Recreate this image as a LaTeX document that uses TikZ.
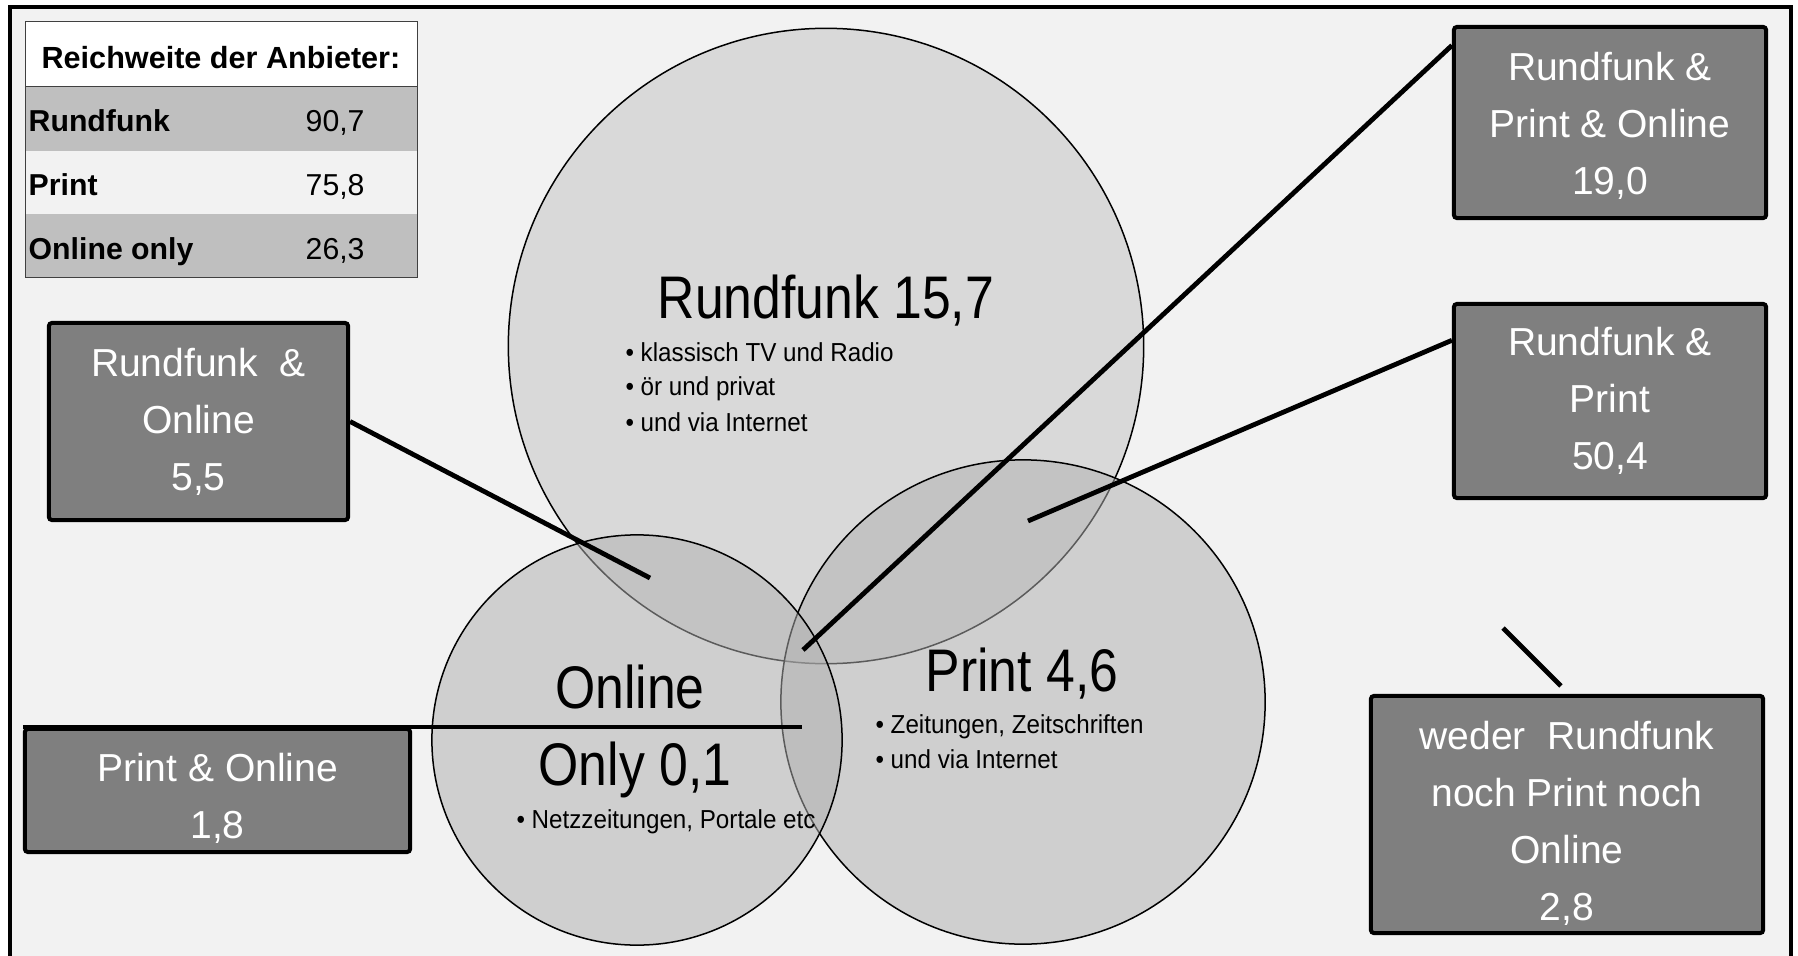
\documentclass[tikz,border=0pt]{standalone}
\usepackage{fontspec}
\setmainfont{Liberation Sans}
\newfontfamily\circfont{Liberation Sans}[FakeStretch=0.86]
\newfontfamily\bulfont{Liberation Sans}[FakeStretch=0.93]
\usetikzlibrary{calc}
\definecolor{FrameBg}{RGB}{242,242,242}
\definecolor{BoxGray}{RGB}{127,127,127}
\definecolor{RowGray}{RGB}{191,191,191}
\definecolor{VennLight}{RGB}{217,217,217}
\definecolor{VennMid}{RGB}{176,176,176}
\definecolor{TabRule}{RGB}{64,64,64}
\newcommand{\vennbullet}{\makebox[1.5mm][l]{\textbullet}}
\newcommand{\boxlift}[1]{\rule{0pt}{#1}}
\tikzset{
  venn/.style={circle,draw=black,line width=0.15mm,inner sep=0pt},
  vennlab/.style={inner sep=0pt,anchor=base,font=\circfont\fontsize{17.1}{20}\selectfont},
  bullab/.style={inner sep=0pt,anchor=base west,font=\bulfont\fontsize{7.4}{9}\selectfont},
  tallybox/.style={draw=black,line width=0.4mm,fill=BoxGray,rounded corners=0.3mm,
        text=white,align=center,inner sep=0pt,font=\fontsize{11.1}{16.2}\selectfont},
  tabtext/.style={inner sep=0pt,anchor=base west,font=\fontsize{8.6}{10}\selectfont},
  tabhead/.style={inner sep=0pt,anchor=base,font=\bfseries\fontsize{8.7}{10}\selectfont},
  lead/.style={line width=0.48mm,draw=black}
}

\begin{document}
\begin{tikzpicture}[x=0.01cm,y=-0.01cm]
  \useasboundingbox (0,0) rectangle (1798,955);
  \clip (0,0) rectangle (1798,955);
  \fill[white] (0,0) rectangle (1798,955);
  \draw[line width=0.45mm,fill=FrameBg] (10,7) rectangle (1791,980);

  % table of totals
  \fill[white] (25,22) rectangle (417,87);
  \node[tabhead] (tabtitle) at (221,69) {Reichweite der Anbieter:};
  \foreach \lab/\val/\shade [count=\i] in {Rundfunk/{90,7}/RowGray,Print/{75,8}/FrameBg,Online only/{26,3}/RowGray}{
    \fill[\shade] (25,{87+63.7*(\i-1)}) rectangle (417,{87+63.7*\i});
    \node[tabtext,font=\bfseries\fontsize{8.6}{10}\selectfont] (tablab\i) at (28,{132+64*(\i-1)}) {\lab};
    \node[tabtext] (tabval\i) at (305,{132+64*(\i-1)}) {\val};
  }
  \draw[TabRule,line width=0.1mm] (25,22) rectangle (417,278);
  \draw[TabRule,line width=0.1mm] (25,87) -- (417,87);

  % the three circles
  \node[venn,fill=VennLight,minimum size=63.5mm] (rf) at (826,346) {};
  \node[venn,fill=VennMid,fill opacity=.52,minimum size=48.4mm] (prt) at (1023,702) {};
  \node[venn,fill=VennMid,fill opacity=.52,minimum size=41mm] (onl) at (637,740) {};

  \node[vennlab] (rflab) at (826,319) {Rundfunk 15,7};
  \foreach \t [count=\i] in {klassisch TV und Radio,ör und privat,und via Internet}
    \node[bullab] (rfitem\i) at (625,{326+35*\i}) {\vennbullet\t};
  \node[vennlab] (onlab1) at (630,708) {Online};
  \node[vennlab] (onlab2) at (635,785) {Only 0,1};
  \node[bullab] (onitem) at (516,828) {\vennbullet Netzzeitungen, Portale etc};
  \node[vennlab] (prtlab) at (1022,691) {Print 4,6};
  \foreach \t [count=\i] in {{Zeitungen, Zeitschriften},und via Internet}
    \node[bullab] (prtitem\i) at (875,{698+35*\i}) {\vennbullet\t};

  % overlap boxes
  \node[tallybox,minimum width=29.9mm,minimum height=19.7mm] (ro) at (198.5,421.5)
    {Rundfunk\ \ \&\\Online\\5,5};
  \node[tallybox,minimum width=31.2mm,minimum height=19.1mm] (rpo) at (1610,122.5)
    {\boxlift{10pt}Rundfunk \&\\Print \& Online\\19,0};
  \node[tallybox,minimum width=31.2mm,minimum height=19.4mm] (rp) at (1610,401)
    {Rundfunk \&\\Print\\50,4};
  \node[tallybox,minimum width=38.5mm,minimum height=12.3mm] (po) at (217.5,790.5)
    {\boxlift{12.7pt}Print \& Online\\1,8};
  \node[tallybox,minimum width=39.2mm,minimum height=23.7mm] (none) at (1567,814.5)
    {\boxlift{13.2pt}weder\ \ Rundfunk\\noch Print noch\\Online\\2,8};

  % leader lines
  \coordinate (ro-tip) at (650,578);
  \coordinate (rpo-tip) at (803,650);
  \coordinate (rp-tip) at (1028,521);
  \coordinate (po-tip) at (802,726);
  \coordinate (none-tip) at (1503,628);
  \draw[lead] (ro.east) -- (ro-tip);
  \draw[lead] (rpo.154) -- (rpo-tip);
  \draw[lead] (rp.159) -- (rp-tip);
  \draw[lead] (po.north west) -- (po.north west -| po-tip);
  \draw[lead] (none-tip) -- ($(none.north)+(-6,-8)$);
\end{tikzpicture}
\end{document}
